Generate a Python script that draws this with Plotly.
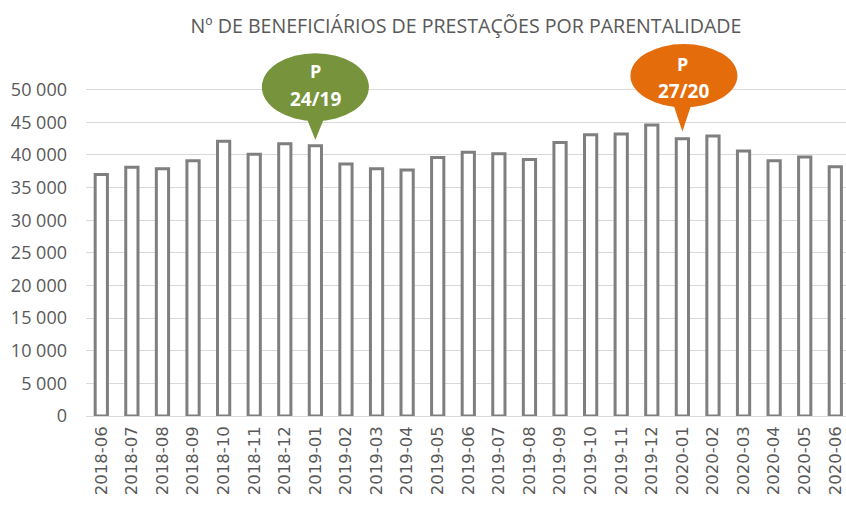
import plotly.graph_objects as go

months = ["2018-06", "2018-07", "2018-08", "2018-09", "2018-10", "2018-11", "2018-12",
          "2019-01", "2019-02", "2019-03", "2019-04", "2019-05", "2019-06", "2019-07",
          "2019-08", "2019-09", "2019-10", "2019-11", "2019-12", "2020-01", "2020-02",
          "2020-03", "2020-04", "2020-05", "2020-06"]
beneficiaries = [37000, 38100, 37900, 39100, 42100, 40100, 41700,
                 41400, 38600, 37900, 37700, 39600, 40400, 40200,
                 39300, 41900, 43100, 43200, 44600, 42500, 42900,
                 40600, 39100, 39700, 38200]
y_ticks = [0, 5000, 10000, 15000, 20000, 25000, 30000, 35000, 40000, 45000, 50000]
y_ticktext = ["0", "5 000", "10 000", "15 000", "20 000", "25 000", "30 000",
              "35 000", "40 000", "45 000", "50 000"]

title_text = "Nº DE BENEFICIÁRIOS DE PRESTAÇÕES POR PARENTALIDADE"
callouts = [
    {"month": "2019-01", "label1": "P", "label2": "24/19", "color": "#77933C"},
    {"month": "2020-01", "label1": "P", "label2": "27/20", "color": "#E46C0A"},
]

fig = go.Figure()
fig.add_trace(go.Bar(
    x=months, y=beneficiaries,
    marker=dict(color="white", line=dict(color="#7F7F7F", width=3)),
    width=0.4,
))

shapes = []
annotations = []
for i, c in enumerate(callouts):
    idx = months.index(c["month"])
    val = beneficiaries[idx]
    if i == 0:
        ex0, ex1, ey0, ey1 = idx - 1.75, idx + 1.75, 45200, 55600
        tip = val + 900
        t1, t2 = 52800, 48500
    else:
        ex0, ex1, ey0, ey1 = idx - 1.7, idx + 1.8, 47300, 57000
        tip = val + 1100
        t1, t2 = 53900, 49800
    shapes.append(dict(type="circle", xref="x", yref="y", x0=ex0, x1=ex1, y0=ey0, y1=ey1,
                       fillcolor=c["color"], line=dict(width=0), layer="above"))
    shapes.append(dict(type="path", xref="x", yref="y",
                       path=f"M {idx-0.35},{ey0+1200} L {idx},{tip} L {idx+0.35},{ey0+1200} Z",
                       fillcolor=c["color"], line=dict(width=0), layer="above"))
    annotations.append(dict(x=idx, y=t1, xref="x", yref="y", text=f"<b>{c['label1']}</b>",
                            showarrow=False, font=dict(family="Open Sans", size=18, color="white")))
    annotations.append(dict(x=(ex0 + ex1) / 2, y=t2, xref="x", yref="y", text=f"<b>{c['label2']}</b>",
                            showarrow=False, font=dict(family="Open Sans", size=19, color="white")))

fig.update_layout(
    width=846, height=505,
    margin=dict(l=86, r=0, t=44, b=89),
    paper_bgcolor="white", plot_bgcolor="white",
    showlegend=False,
    title=dict(text=title_text, x=0.5, xref="paper", xanchor="center", y=0.948, yanchor="middle",
               font=dict(family="Open Sans", size=19.6, color="#595959")),
    shapes=shapes, annotations=annotations,
    font=dict(family="Open Sans", color="#595959"),
)
fig.update_xaxes(
    type="category", range=[-0.5, 24.35], tickangle=-90,
    tickfont=dict(family="DejaVu Sans", size=16.5, color="#595959"),
    showgrid=False, showline=False, ticks="", automargin=False, ticklabelstandoff=6,
)
fig.update_yaxes(
    range=[0, 57000], tickvals=y_ticks, ticktext=y_ticktext,
    tickfont=dict(family="Open Sans", size=18, color="#595959"),
    showgrid=True, gridcolor="#D9D9D9", gridwidth=1,
    zeroline=True, zerolinecolor="#D9D9D9", zerolinewidth=1,
    showline=False, ticks="", automargin=False, ticklabelstandoff=18,
)

fig.write_html("out.html", config={"displayModeBar": False},
               post_script="document.body.style.margin='0';")
